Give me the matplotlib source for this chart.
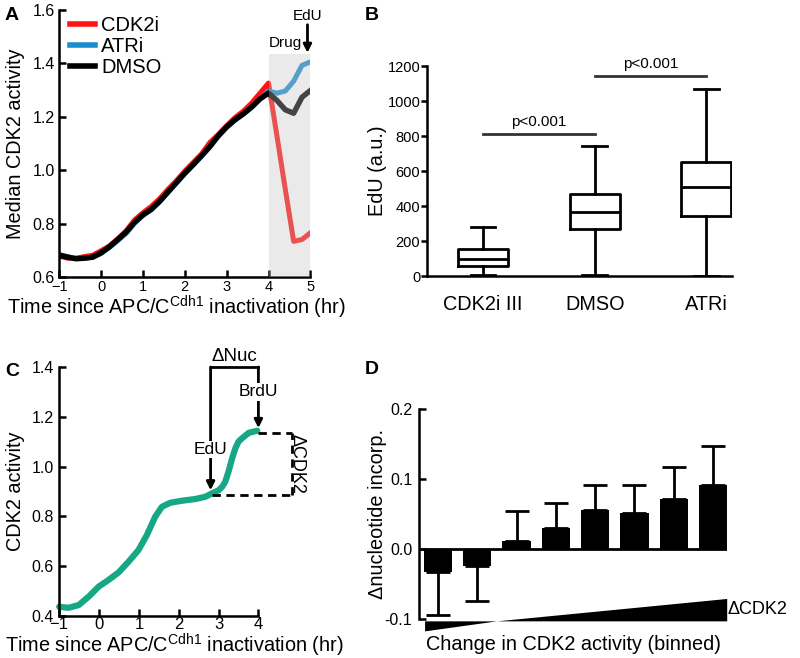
import numpy as np
import matplotlib.pyplot as plt
from matplotlib.patches import Rectangle, Polygon

plt.rcParams['font.family'] = ['Liberation Sans', 'DejaVu Sans']
plt.rcParams['mathtext.fontset'] = 'custom'
plt.rcParams['mathtext.rm'] = 'Liberation Sans'

# ---- panel A: median CDK2 activity ----
time_a = [-1.0, -0.8, -0.6, -0.4, -0.2, 0.0, 0.2, 0.4, 0.6, 0.8, 1.0, 1.2, 1.4, 1.6,
          1.8, 2.0, 2.2, 2.4, 2.6, 2.8, 3.0, 3.2, 3.4, 3.6, 3.8, 4.0, 4.2, 4.4, 4.6,
          4.8, 5.0]
cdk2i = [0.680, 0.672, 0.672, 0.678, 0.683, 0.700, 0.718, 0.745, 0.775, 0.815, 0.842,
         0.866, 0.895, 0.930, 0.962, 0.998, 1.030, 1.062, 1.105, 1.135, 1.168, 1.198,
         1.222, 1.253, 1.290, 1.327, 1.130, 0.930, 0.735, 0.742, 0.767]
atri = [0.686, 0.678, 0.671, 0.672, 0.675, 0.690, 0.712, 0.738, 0.765, 0.803, 0.832,
        0.853, 0.883, 0.918, 0.953, 0.988, 1.020, 1.053, 1.088, 1.128, 1.161, 1.188,
        1.211, 1.236, 1.268, 1.297, 1.289, 1.297, 1.334, 1.393, 1.406]
dmso = [0.683, 0.676, 0.670, 0.672, 0.676, 0.692, 0.715, 0.742, 0.770, 0.806, 0.834,
        0.855, 0.885, 0.920, 0.955, 0.990, 1.022, 1.055, 1.090, 1.130, 1.163, 1.190,
        1.212, 1.238, 1.268, 1.289, 1.262, 1.227, 1.214, 1.274, 1.299]

# ---- panel B: EdU box plots ----
groups = ['CDK2i III', 'DMSO', 'ATRi']
whislo = [5, 5, 2]
q1 = [60, 270, 345]
med = [100, 365, 510]
q3 = [155, 470, 650]
whishi = [280, 745, 1070]

# ---- panel C: example trace ----
time_c = [-1.0, -0.77, -0.51, -0.26, -0.01, 0.24, 0.49, 0.74, 0.99, 1.2, 1.41, 1.58,
          1.79, 2.08, 2.42, 2.67, 2.84, 3.0, 3.09, 3.17, 3.25, 3.34, 3.42, 3.5, 3.59,
          3.76, 3.97]
activity_c = [0.437, 0.433, 0.444, 0.478, 0.518, 0.545, 0.575, 0.618, 0.665, 0.725,
              0.799, 0.839, 0.855, 0.863, 0.870, 0.879, 0.893, 0.905, 0.919, 0.940,
              0.980, 1.033, 1.073, 1.100, 1.114, 1.136, 1.144]

# ---- panel D: binned nucleotide incorporation ----
bins = [1, 2, 3, 4, 5, 6, 7, 8]
delta_nuc = [-0.033, -0.025, 0.012, 0.030, 0.056, 0.052, 0.072, 0.092]
delta_err = [0.062, 0.050, 0.042, 0.036, 0.035, 0.040, 0.045, 0.055]

LW = 1.8
TICK = 11.5
LAB = 14.3
XLAB = 'Time since APC/C$^{\\mathregular{Cdh1}}$ inactivation (hr)'


def style(ax, bottom=True, direction='in'):
    for s in ['top', 'right']:
        ax.spines[s].set_visible(False)
    ax.spines['left'].set_linewidth(LW)
    ax.spines['bottom'].set_linewidth(LW)
    if not bottom:
        ax.spines['bottom'].set_visible(False)
    ax.tick_params(direction=direction, length=5, width=LW, labelsize=TICK)


fig = plt.figure(figsize=(8, 6.58), dpi=100)

# A
ax = fig.add_axes([0.074, 0.5783, 0.314, 0.4065])
style(ax)
ax.plot(time_a, cdk2i, color='#ff1414', lw=3.6, label='CDK2i')
ax.plot(time_a, atri, color='#1b8cce', lw=3.6, label='ATRi')
ax.plot(time_a, dmso, color='black', lw=3.9, label='DMSO')
ax.add_patch(Rectangle((4, 0.6), 1, 0.835, facecolor='#c4c4c4', alpha=0.35,
                       lw=0, zorder=5))
ax.set_xlim(-1, 5)
ax.set_ylim(0.6, 1.6)
ax.set_xticks([-1, 0, 1, 2, 3, 4, 5])
ax.set_yticks([0.6, 0.8, 1.0, 1.2, 1.4, 1.6])
ax.set_yticklabels(['0.6', '0.8', '1.0', '1.2', '1.4', '1.6'])
ax.tick_params(axis='x', pad=1.5, labelsize=10.5)
ax.tick_params(axis='y', pad=3)
ax.set_ylabel('Median CDK2 activity', fontsize=LAB)
ax.yaxis.label.set_va('center')
ax.yaxis.set_label_coords(-0.175, 0.5)
ax.set_xlabel(XLAB, fontsize=LAB)
ax.xaxis.label.set_va('baseline')
ax.xaxis.set_label_coords(0.468, -0.139)
leg = ax.legend(loc='upper left', bbox_to_anchor=(0.01, 1.009), frameon=False,
                fontsize=14.5, handlelength=1.25, handletextpad=0.3,
                labelspacing=0.1, borderaxespad=0)
for h in leg.get_lines():
    h.set_linewidth(4)
ax.text(4.4, 1.452, 'Drug', fontsize=11, ha='center', va='bottom')
ax.text(4.93, 1.55, 'EdU', fontsize=11, ha='center', va='bottom')
ax.annotate('', xy=(4.93, 1.44), xytext=(4.93, 1.545), annotation_clip=False,
            arrowprops=dict(arrowstyle='-|>', lw=2, color='black', mutation_scale=12,
                            shrinkA=0, shrinkB=0))

# B
ax = fig.add_axes([0.534, 0.5805, 0.381, 0.319])
style(ax, direction='out')
stats = []
for i in range(len(groups)):
    stats.append(dict(label=groups[i], whislo=whislo[i], q1=q1[i], med=med[i],
                      q3=q3[i], whishi=whishi[i], fliers=[]))
bp = dict(lw=2, color='black')
ax.bxp(stats, positions=[1, 2, 3], widths=0.45, capwidths=0.22, showfliers=False,
       boxprops=bp, medianprops=bp, whiskerprops=bp, capprops=bp)
ax.set_xlim(0.5, 3.23)
ax.set_ylim(0, 1200)
ax.set_yticks([0, 200, 400, 600, 800, 1000, 1200])
ax.tick_params(axis='x', length=0, pad=14, labelsize=LAB)
ax.tick_params(axis='y', pad=1, length=4, labelsize=10.5)
ax.set_ylabel('EdU (a.u.)', fontsize=LAB)
ax.yaxis.label.set_va('center')
ax.yaxis.set_label_coords(-0.164, 0.5)
ax.plot([1.0, 2.0], [811, 811], color='#333333', lw=2, clip_on=False)
ax.plot([2.0, 3.0], [1143, 1143], color='#333333', lw=2, clip_on=False)
ax.text(1.5, 842, 'p<0.001', fontsize=11, ha='center', va='bottom')
ax.text(2.5, 1174, 'p<0.001', fontsize=11, ha='center', va='bottom')

# C
ax = fig.add_axes([0.074, 0.0638, 0.249, 0.3784])
style(ax)
ax.plot(time_c, activity_c, color='#16a884', lw=4.5, solid_capstyle='round',
        clip_on=False)
ax.set_xlim(-1, 4)
ax.set_ylim(0.4, 1.4)
ax.set_xticks([-1, 0, 1, 2, 3, 4])
ax.set_yticks([0.4, 0.6, 0.8, 1.0, 1.2, 1.4])
ax.set_yticklabels(['0.4', '0.6', '0.8', '1.0', '1.2', '1.4'])
ax.tick_params(axis='x', pad=0.8, labelsize=12)
ax.tick_params(axis='y', pad=4)
ax.set_ylabel('CDK2 activity', fontsize=LAB)
ax.yaxis.label.set_va('center')
ax.yaxis.set_label_coords(-0.221, 0.5)
ax.set_xlabel(XLAB, fontsize=LAB)
ax.xaxis.label.set_va('baseline')
ax.xaxis.set_label_coords(0.578, -0.1485)
ax.plot([2.8, 4.0], [1.4, 1.4], color='black', lw=2, clip_on=False)
ax.annotate('', xy=(2.8, 0.905), xytext=(2.8, 1.4), annotation_clip=False,
            arrowprops=dict(arrowstyle='-|>', lw=2, color='black', mutation_scale=12,
                            shrinkA=0, shrinkB=0))
ax.annotate('', xy=(4.0, 1.155), xytext=(4.0, 1.4), annotation_clip=False,
            arrowprops=dict(arrowstyle='-|>', lw=2, color='black', mutation_scale=12,
                            shrinkA=0, shrinkB=0))
ax.text(2.8, 1.069, 'EdU', fontsize=12.5, ha='center', va='center', zorder=6,
        bbox=dict(facecolor='white', edgecolor='none', pad=1))
ax.text(4.0, 1.30, 'BrdU', fontsize=12.5, ha='center', va='center', zorder=6,
        bbox=dict(facecolor='white', edgecolor='none', pad=1))
ax.text(3.4, 1.41, '\u0394Nuc', fontsize=13.5, ha='center', va='bottom')
dash = (0, (3, 2))
ax.plot([2.84, 4.85], [0.885, 0.885], color='black', lw=2, ls=dash, clip_on=False)
ax.plot([4.0, 4.85], [1.137, 1.137], color='black', lw=2, ls=dash, clip_on=False)
ax.plot([4.85, 4.85], [0.885, 1.137], color='black', lw=2, ls=dash, clip_on=False)
ax.text(4.97, 1.01, '\u0394CDK2', fontsize=13, rotation=-90, ha='center',
        va='center')

# D
ax = fig.add_axes([0.524, 0.0593, 0.385, 0.3191])
style(ax, bottom=False)
lower = [e if v < 0 else 0 for v, e in zip(delta_nuc, delta_err)]
upper = [e if v > 0 else 0 for v, e in zip(delta_nuc, delta_err)]
ax.bar(bins, delta_nuc, width=0.72, color='black', zorder=2)
ax.errorbar(bins, delta_nuc, yerr=[lower, upper], fmt='none', ecolor='black',
            elinewidth=2, capsize=8.5, capthick=2, zorder=1)
ax.axhline(0, color='black', lw=2, zorder=3)
ax.set_xlim(0.52, 8.36)
ax.set_ylim(-0.1, 0.2)
ax.set_xticks([])
ax.set_yticks([-0.1, 0.0, 0.1, 0.2])
ax.set_yticklabels(['-0.1', '0.0', '0.1', '0.2'])
ax.tick_params(axis='y', pad=5)
ax.set_ylabel('\u0394nucleotide incorp.', fontsize=LAB)
ax.yaxis.label.set_va('center')
ax.yaxis.set_label_coords(-0.136, 0.5)
ax.set_xlabel('Change in CDK2 activity (binned)', fontsize=LAB)
ax.xaxis.label.set_va('baseline')
ax.xaxis.set_label_coords(0.5, -0.1476)
ax.add_patch(Polygon([(0.67, -0.1034), (0.67, -0.1177), (2.50, -0.1034),
                      (8.36, -0.0714), (8.36, -0.1034)], closed=True,
                     facecolor='black', edgecolor='none', clip_on=False))
ax.text(8.38, -0.087, '\u0394CDK2', fontsize=13, ha='left', va='center')

# panel letters
for letter, x, y in [('A', 0.015, 0.977), ('B', 0.465, 0.977),
                     ('C', 0.015, 0.435), ('D', 0.465, 0.438)]:
    fig.text(x, y, letter, fontsize=14, fontweight='bold', ha='center', va='center')

fig.savefig('out.png', dpi=100)
